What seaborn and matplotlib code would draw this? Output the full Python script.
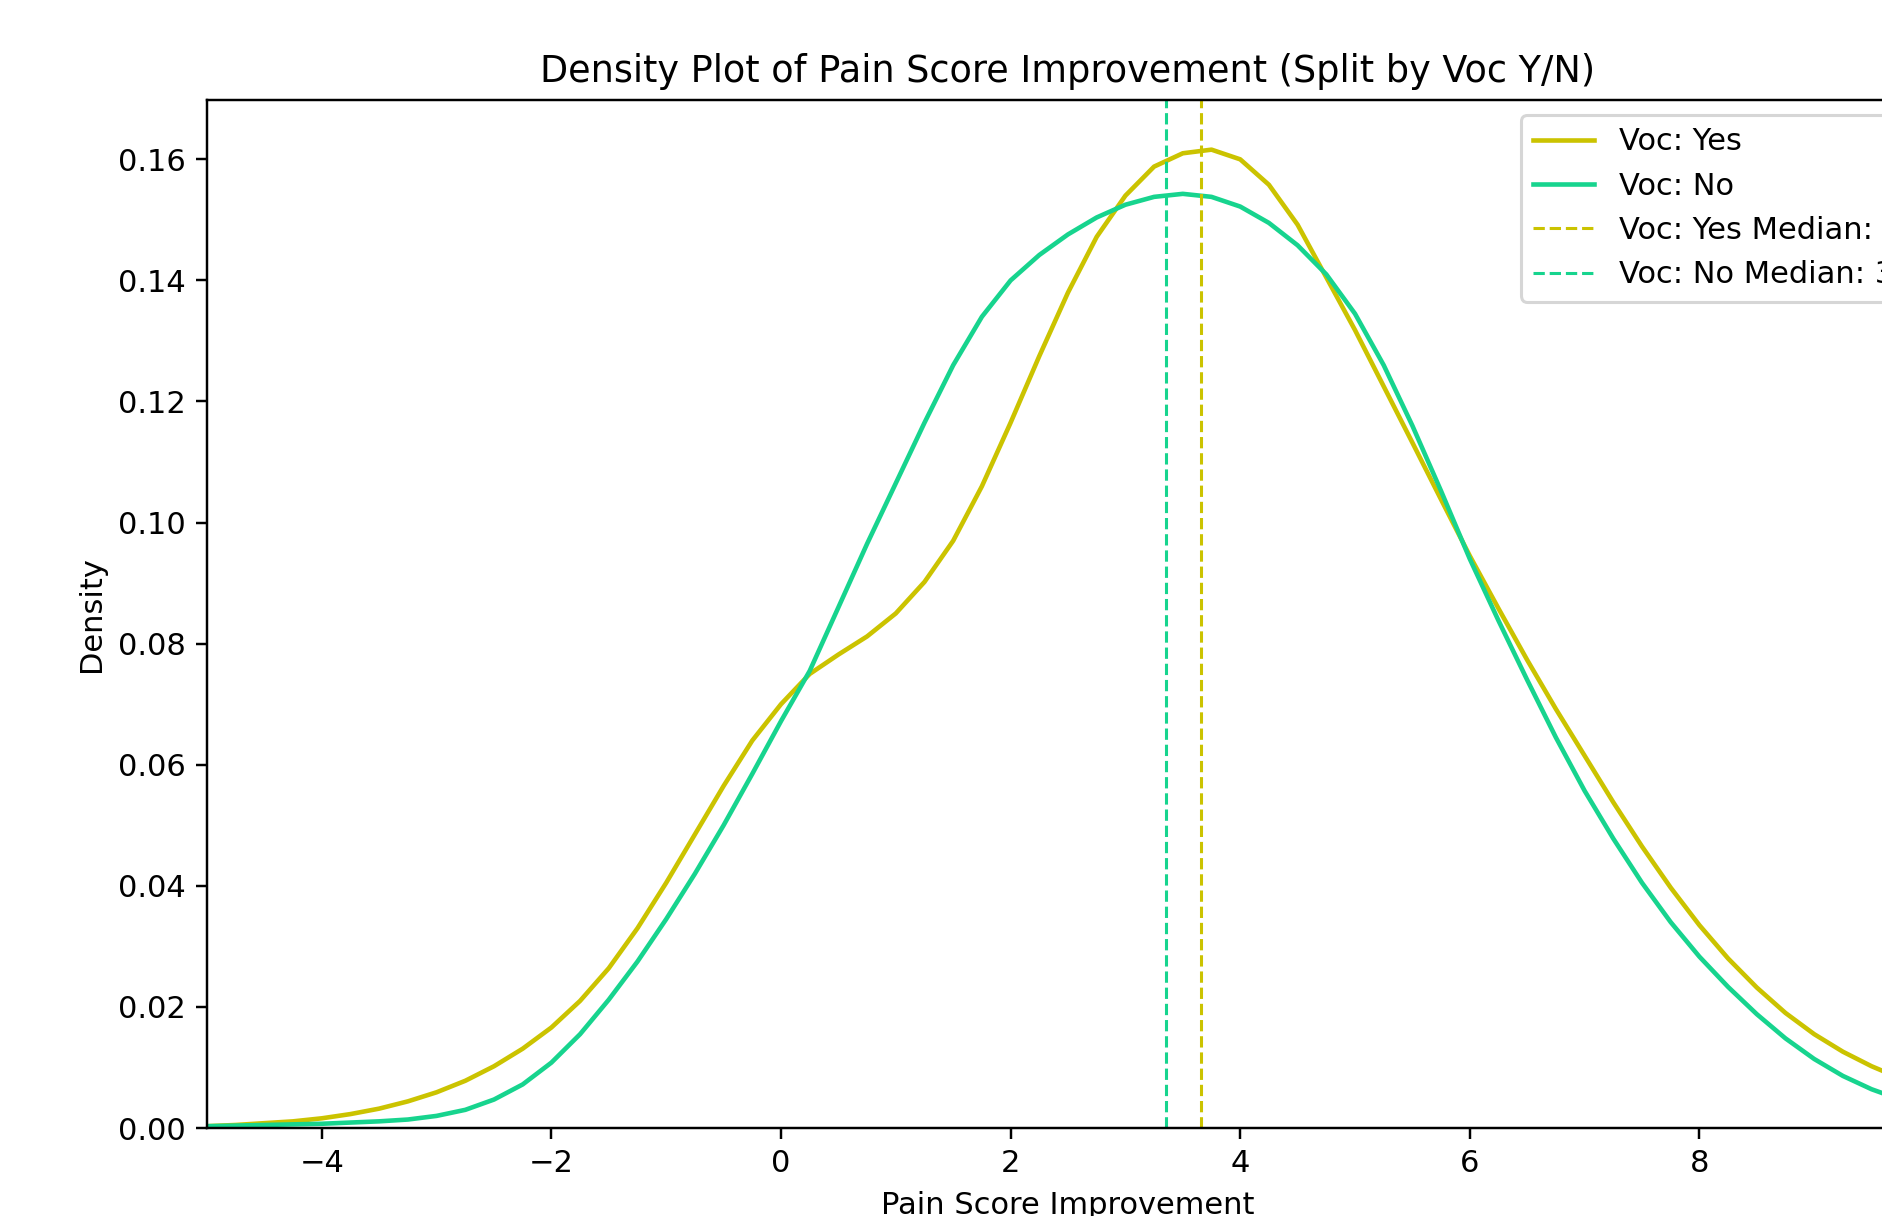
import pandas as pd
import seaborn as sns
import matplotlib
matplotlib.use("Agg")
import matplotlib.pyplot as plt

# densities (every 0.25 along the x axis)
x_grid = [-5 + 0.25 * i for i in range(61)]

d_yes = [0.0003, 0.0005, 0.0008, 0.0011, 0.0016, 0.0023, 0.0032, 0.0044, 0.0059, 0.0078,
         0.0102, 0.0131, 0.0166, 0.0210, 0.0264, 0.0330, 0.0405, 0.0485, 0.0565, 0.0640,
         0.0700, 0.0750, 0.0782, 0.0812, 0.0850, 0.0902, 0.0970, 0.1060, 0.1165, 0.1275,
         0.1380, 0.1472, 0.1540, 0.1588, 0.1610, 0.1616, 0.1600, 0.1558, 0.1492, 0.1405,
         0.1318, 0.1225, 0.1132, 0.1038, 0.0945, 0.0858, 0.0773, 0.0692, 0.0615, 0.0538,
         0.0465, 0.0397, 0.0335, 0.0280, 0.0232, 0.0190, 0.0155, 0.0126, 0.0102, 0.0082,
         0.0065]

d_no = [0.0003, 0.0004, 0.0005, 0.0006, 0.0007, 0.0009, 0.0011, 0.0014, 0.0020, 0.0030,
        0.0047, 0.0072, 0.0108, 0.0155, 0.0212, 0.0275, 0.0345, 0.0420, 0.0500, 0.0585,
        0.0672, 0.0755, 0.0860, 0.0965, 0.1065, 0.1165, 0.1260, 0.1340, 0.1400, 0.1442,
        0.1476, 0.1504, 0.1525, 0.1538, 0.1543, 0.1538, 0.1522, 0.1495, 0.1458, 0.1410,
        0.1345, 0.1260, 0.1160, 0.1052, 0.0940, 0.0838, 0.0740, 0.0645, 0.0557, 0.0478,
        0.0405, 0.0340, 0.0283, 0.0233, 0.0188, 0.0148, 0.0114, 0.0086, 0.0064, 0.0047,
        0.0034]

median_yes = 3.66
median_no = 3.35

col_yes = "#cbc300"
col_no = "#17d48e"

fig = plt.figure(figsize=(1882 / 220, 1216 / 220), dpi=220)
ax = fig.add_axes([207 / 1882, 88 / 1216, 1722 / 1882, 1028 / 1216])

sns.lineplot(x=x_grid, y=d_yes, color=col_yes, linewidth=1.5, label="Voc: Yes", ax=ax)
sns.lineplot(x=x_grid, y=d_no, color=col_no, linewidth=1.5, label="Voc: No", ax=ax)
ax.axvline(median_yes, color=col_yes, linestyle="--", linewidth=1, label=f"Voc: Yes Median: {median_yes:.2f}")
ax.axvline(median_no, color=col_no, linestyle="--", linewidth=1, label=f"Voc: No Median: {median_no:.2f}")

ax.set_xlim(-5, 10)
ax.set_ylim(0, 0.1698)
ax.set_title("Density Plot of Pain Score Improvement (Split by Voc Y/N)")
ax.set_xlabel("Pain Score Improvement")
ax.set_ylabel("Density")
# the legend runs past the right edge of the picture, as in the reference
ax.legend(loc="upper left", bbox_to_anchor=(0.7542, 1.0))

fig.savefig("out.png", dpi=220)
